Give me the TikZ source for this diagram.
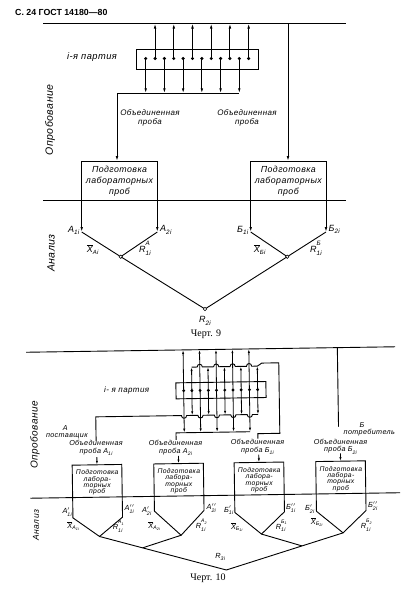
\documentclass[tikz,border=0pt]{standalone}
\usepackage{amsmath}
\usepackage{fontspec}
\setmainfont{Liberation Serif}
\newfontfamily\gostfam[LetterSpace=5]{Liberation Sans}
\newfontfamily\hdrfam{Liberation Sans}
\usetikzlibrary{arrows.meta,calc}
\newcommand\gf{\gostfam\itshape}
\newcommand\gt[1]{\text{\gf #1}}
\makeatletter
\newcommand\scr{\fontsize{\the\dimexpr 7\dimexpr\f@size pt\relax/10\relax}{1pt}\selectfont}
\makeatother
\newcommand\RL[3]{#1\rlap{\raisebox{0.78em}{\scr #2}}\raisebox{-0.38em}{\scr #3}}
\newcommand\PR[3]{#1\rlap{$#2$}\raisebox{-0.38em}{\scr #3}}
\newcommand\lo[1]{\raisebox{-0.3em}{\scr #1}}
\tikzset{
  ln/.style={line width=0.9pt},
  arr/.style={line width=0.9pt,-{Latex[length=5pt,width=2.6pt]}},
  arrs/.style={line width=0.8pt,-{Latex[length=4pt,width=2.2pt]}},
  lab/.style={inner sep=0pt,align=center,font={\gf\fontsize{8}{9.2}\selectfont}},
  boxt/.style={inner sep=0pt,align=center,font={\gf\fontsize{8.8}{11}\selectfont}},
  labs/.style={inner sep=0pt,align=center,font={\gf\fontsize{7.2}{7.6}\selectfont}},
  boxts/.style={inner sep=0pt,align=center,font={\gf\fontsize{6.8}{6.4}\selectfont}},
  sym/.style={inner sep=0pt,font={\gf\fontsize{9}{10}\selectfont}},
  syms/.style={inner sep=0pt,font={\gf\fontsize{7.4}{8}\selectfont}},
  side/.style={inner sep=0pt,rotate=90},
  knot/.style={fill=white,line width=0.6pt}
}
\begin{document}
\begin{tikzpicture}[x=1pt,y=-1pt]
\useasboundingbox (0,0) rectangle (415,600);

% header
\node[inner sep=0pt,anchor=west,font={\hdrfam\bfseries\fontsize{8.8}{10}\selectfont}] (hdr) at (15,12.5) {С. 24 ГОСТ 14180—80};

% ================= Chart 9 =================
\coordinate (t9L) at (43,23.5);
\coordinate (t9R) at (346,23.5);
\draw[ln] (t9L) -- (t9R);
\draw[ln] (136,49) rectangle (258,69);
\foreach \k in {1,...,12}{\coordinate (d\k) at ({145.7+9.36*(\k-1)},58.5);}
\coordinate (lo9) at (117,93.3);
\foreach \k in {2,4,...,12}{\draw[arr] (d\k) -- (d\k |- t9L);}
\foreach \k in {1,3,...,11}{\draw[arr] (d\k) -- (d\k |- lo9);}
\foreach \k in {1,...,12}{\fill (d\k) circle (1.7);}
\draw[ln] (lo9) -- (d11 |- lo9);
\coordinate (v9) at (288,23.5);

\coordinate (b9a) at (81.7,161);  \coordinate (b9b) at (157.3,161);
\coordinate (c9a) at (81.7,232);  \coordinate (c9b) at (157.3,232);
\coordinate (b9c) at (250.7,161); \coordinate (b9d) at (326,161);
\coordinate (c9c) at (250.7,232); \coordinate (c9d) at (326,232);
\coordinate (n9a) at (120.7,256.7);
\coordinate (n9b) at (287.3,256.7);
\coordinate (r9) at (205,309);

\draw[arr] (lo9) -- (lo9 |- b9a);
\draw[arr] (v9) -- (v9 |- b9c);
\draw[ln] (b9a) -- (b9b);
\draw[ln] (b9c) -- (b9d);
\draw[arr] (b9a) -- (c9a);
\draw[arr] (b9b) -- (c9b);
\draw[arr] (b9c) -- (c9c);
\draw[arr] (b9d) -- (c9d);
\draw[ln] (c9a) -- (n9a) -- (c9b);
\draw[ln] (c9c) -- (n9b) -- (c9d);
\draw[ln] (n9a) -- (r9) -- (n9b);
\draw[ln] (43,200) -- (346,200);
\foreach \p in {n9a,n9b,r9}{\draw[knot] (\p) circle (1.7);}

\node[lab,font={\gf\fontsize{9.3}{10}\selectfont}] (lot9) at (92,57) {i-я партия};
\node[lab] (ob9a) at (150,117.5) {Объединенная\\проба};
\node[lab] (ob9b) at (247,117.5) {Объединенная\\проба};
\node[boxt] (pp9a) at (119.5,181.5) {Подготовка\\лабораторных\\проб};
\node[boxt] (pp9b) at (288.3,181.5) {Подготовка\\лабораторных\\проб};
\node[side,font={\gf\fontsize{10.5}{11}\selectfont}] (op9) at (50,120) {Опробование};
\node[side,font={\gf\fontsize{10.5}{11}\selectfont}] (an9) at (51,253) {Анализ};

\node[sym,anchor=east] (lA1) at (79.5,230.5) {А\lo{1i}};
\node[sym,anchor=west] (lA2) at (160,230) {А\lo{2i}};
\node[sym,anchor=east] (lB1) at (248.5,230.5) {Б\lo{1i}};
\node[sym,anchor=west] (lB2) at (328.5,229.5) {Б\lo{2i}};
\node[sym] (lXA) at (93,249.5) {$\overline{\gt{X}}_{\gt{Аi}}$};
\node[sym] (lRA) at (145,248.5) {\RL{R}{А}{1i}};
\node[sym] (lXB) at (260,249.5) {$\overline{\gt{X}}_{\gt{Бi}}$};
\node[sym] (lRB) at (316,248.5) {\RL{R}{Б}{1i}};
\node[sym] (lR2) at (205,321) {R\lo{2i}};
\node[inner sep=0pt,font={\fontsize{10}{12}\selectfont}] (ch9) at (206,334.5) {Черт. 9};

% ================= Chart 10 =================
\begin{scope}[rotate around={0.85:(200,480)}]
\coordinate (t10L) at (28,349.7);
\coordinate (t10R) at (397,349.7);
\draw[ln] (t10L) -- (t10R);
\draw[ln] (177.3,382.5) rectangle (267.3,398.5);
\foreach \k in {1,...,10}{
  \pgfmathsetmacro\xx{185+8.22*(\k-1)}
  \coordinate (e\k) at (\xx,390.5);
  \coordinate (et\k) at (\xx,349.7);
  \coordinate (eb\k) at (\xx,432.5);
  \coordinate (eu\k) at (\xx,367);
  \coordinate (el\k) at (\xx,415.3);
}
\foreach \k in {1,3,5,7,9}{\draw[arrs] (e\k) -- (et\k); \draw[arrs] (e\k) -- (eb\k);}
\foreach \k in {2,4,6,8,10}{\draw[arrs] (e\k) -- (eu\k); \draw[arrs] (e\k) -- (el\k);}
% upper line (to Б1)
\draw[ln] (193.2,367)
  \foreach \k in {3,5,7,9}{
    -- ({185+8.22*(\k-1)-2.6},367) .. controls ({185+8.22*(\k-1)-2.6},363.4) and ({185+8.22*(\k-1)+2.6},363.4) .. ({185+8.22*(\k-1)+2.6},367)
  } -- (259,367) -- (263.5,364) -- (280.5,364) -- (280.5,434.5) -- (258.5,434.5) -- (258.5,439.5);
% lower line (to А1)
\draw[ln] (96.7,439.5) -- (96.7,415.3)
  \foreach \k in {1,3,5,7,9}{
    -- ({185+8.22*(\k-1)-2.6},415.3) .. controls ({185+8.22*(\k-1)-2.6},418.9) and ({185+8.22*(\k-1)+2.6},418.9) .. ({185+8.22*(\k-1)+2.6},415.3)
  } -- (259,415.3);
% bottom line (to А2)
\draw[ln] (176.7,439.5) -- (176.7,432.5) -- (eb9);
% right line (to Б2)
\coordinate (v10) at (339.3,349.7);
\draw[ln] (v10) -- (339.3,428.8);
\foreach \k in {1,...,10}{\fill (e\k) circle (1.6);}

% boxes
\foreach \c/\n/\b in {97.2/A1/516,178.8/A2/510.5,259.2/B1/513,340.8/B2/513}{
  \coordinate (tl\n) at (\c-24.8,463.3);
  \coordinate (tr\n) at (\c+24.8,463.3);
  \coordinate (bl\n) at (\c-24.8,\b);
  \coordinate (br\n) at (\c+24.8,\b);
  \coordinate (nd\n) at (\c+1.5,535);
  \coordinate (ar\n) at (\c,455.5);
  \coordinate (at\n) at (\c,463.3);
  \draw[ln] (nd\n) -- (bl\n) -- (tl\n) -- (tr\n) -- (br\n) -- cycle;
  \draw[arrs] (ar\n) -- (at\n);
  \node[boxts] (pp\n) at (\c,481) {Подготовка\\лабора-\\торных\\проб};
}
\coordinate (R3) at (225,570.4);
\coordinate (JA) at ($(ndA1)!0.34!(R3)$);
\coordinate (JB) at ($(ndB2)!0.352!(R3)$);
\draw[ln] (ndA1) -- (R3) -- (ndB2);
\draw[ln] (ndA2) -- (JA);
\draw[ln] (ndB1) -- (JB);
\draw[ln] (30,495.7) -- (400,495.7);

% top labels
\node[lab] (lot10) at (128,388.9) {i- я партия};
\node[labs] (sA) at (66,426.5) {А};
\node[labs] (sA2) at (67.5,434.5) {поставщик};
\node[labs] (oA1) at (96.5,446.6) {Объединенная\\проба А\lo{1i}};
\node[labs] (oA2) at (176,447.7) {Объединенная\\проба А\lo{2i}};
\node[labs] (oB1) at (258,447.8) {Объединенная\\проба Б\lo{1i}};
\node[labs] (oB2) at (341,448.6) {Объединенная\\проба Б\lo{2i}};
\node[labs] (sB) at (362.7,427) {Б};
\node[labs] (sB2) at (370,435) {потребитель};

% bottom labels
\node[syms,anchor=east] (a1p) at (71.5,510.5) {\PR{А}{'}{1i}};
\node[syms] (xa1) at (73,524.5) {$\overline{\gt{X}}_{\gt{А}_{\gt{1i}}}$};
\node[syms,anchor=west] (a1pp) at (124,508) {\PR{А}{''}{1i}};
\node[syms] (ra1) at (117,525) {\RL{R}{А\lo{1}}{1i}};
\node[syms,anchor=east] (a2p) at (151,510.5) {\PR{А}{'}{2i}};
\node[syms] (xa2) at (154,525) {$\overline{\gt{X}}_{\gt{А}_{\gt{2i}}}$};
\node[syms,anchor=west] (a2pp) at (206,508.5) {\PR{А}{''}{2i}};
\node[syms] (ra2) at (200,525.5) {\RL{R}{А\lo{2}}{1i}};
\node[syms,anchor=east] (b1p) at (233,511) {\PR{Б}{'}{1i}};
\node[syms] (xb1) at (236.5,527.5) {$\overline{\gt{X}}_{\gt{Б}_{\gt{1i}}}$};
\node[syms,anchor=west] (b1pp) at (285.5,509.5) {\PR{Б}{''}{1i}};
\node[syms] (rb1) at (280,527) {\RL{R}{Б\lo{1}}{1i}};
\node[syms,anchor=east] (b2p) at (314,511) {\PR{Б}{'}{2i}};
\node[syms] (xb2) at (316.5,524) {$\overline{\gt{X}}_{\gt{Б}_{\gt{2i}}}$};
\node[syms,anchor=west] (b2pp) at (367.5,508.5) {\PR{Б}{''}{2i}};
\node[syms] (rb2) at (365,527.5) {\RL{R}{Б\lo{2}}{1i}};
\node[syms] (r3) at (219,557.5) {R\lo{3i}};
\end{scope}

\node[side,font={\gf\fontsize{10}{11}\selectfont}] (op10) at (35,435) {Опробование};
\node[side,font={\gf\fontsize{8.5}{9}\selectfont}] (an10) at (36,525) {Анализ};
\node[inner sep=0pt,font={\fontsize{10}{12}\selectfont}] (ch10) at (208,578) {Черт. 10};
\end{tikzpicture}
\end{document}
